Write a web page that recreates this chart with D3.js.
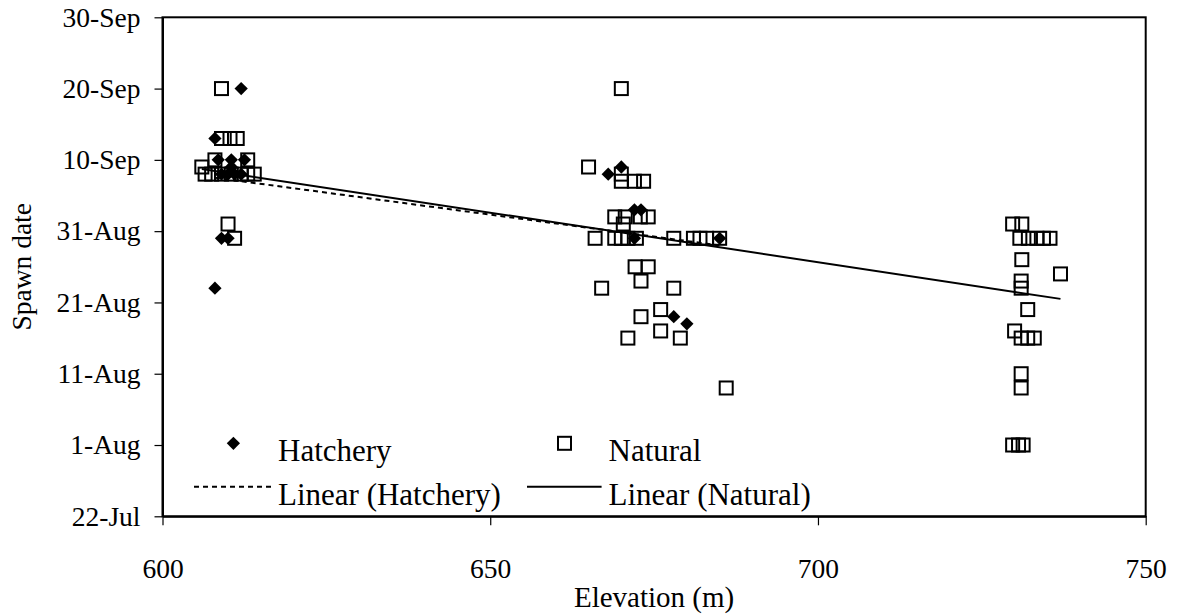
<!DOCTYPE html>
<html>
<head>
<meta charset="utf-8">
<script src="https://cdn.jsdelivr.net/npm/d3@7"></script>
<style>
  html, body { margin: 0; padding: 0; background: #fff; }
  svg { display: block; font-family: "Liberation Serif", "Times New Roman", serif; }
</style>
</head>
<body>
<svg id="chart" width="1178" height="615"></svg>
<script>
// Spawn dates by site elevation, hatchery vs natural-origin fish
const hatcheryElevation = [612, 608, 608.5, 610.5, 612.5, 609, 610, 611, 612, 610.5, 609, 610, 608,
                           668, 670, 672, 673, 672, 685, 678, 680];
const hatcheryDate = ["20-Sep", "13-Sep", "10-Sep", "10-Sep", "10-Sep", "8-Sep", "8-Sep", "8-Sep", "8-Sep", "9-Sep", "30-Aug", "30-Aug", "23-Aug",
                      "8-Sep", "9-Sep", "3-Sep", "3-Sep", "30-Aug", "30-Aug", "19-Aug", "18-Aug"];

const naturalElevation = [609, 609, 610.3, 611.4, 608, 613, 606, 606.5, 607.5, 609, 610.5, 612, 613, 614, 610, 611,
                          670, 665, 670, 670, 672, 673.4, 669, 670.6, 672.9, 674.1, 670.3,
                          666, 669, 670, 671, 672.3, 678, 681, 682, 683, 685,
                          672.1, 674.1, 673, 667, 678, 676, 673, 676, 671, 679, 686,
                          729.7, 731.1, 730.8, 732.1, 733.4, 734.4, 735.4, 731.1, 737, 731, 731, 732, 730,
                          731, 732, 733, 731, 731, 729.7, 730.6, 731.3];
const naturalDate = ["20-Sep", "13-Sep", "13-Sep", "13-Sep", "10-Sep", "10-Sep", "9-Sep", "8-Sep", "8-Sep", "8-Sep", "8-Sep", "8-Sep", "8-Sep", "8-Sep", "1-Sep", "30-Aug",
                     "20-Sep", "9-Sep", "8-Sep", "7-Sep", "7-Sep", "7-Sep", "2-Sep", "2-Sep", "2-Sep", "2-Sep", "1-Sep",
                     "30-Aug", "30-Aug", "30-Aug", "30-Aug", "30-Aug", "30-Aug", "30-Aug", "30-Aug", "30-Aug", "30-Aug",
                     "26-Aug", "26-Aug", "24-Aug", "23-Aug", "23-Aug", "20-Aug", "19-Aug", "17-Aug", "16-Aug", "16-Aug", "9-Aug",
                     "1-Sep", "1-Sep", "30-Aug", "30-Aug", "30-Aug", "30-Aug", "30-Aug", "27-Aug", "25-Aug", "24-Aug", "23-Aug", "20-Aug", "17-Aug",
                     "16-Aug", "16-Aug", "16-Aug", "11-Aug", "9-Aug", "1-Aug", "1-Aug", "1-Aug"];

// Linear trend lines: [elevation, date] at each end of the fitted range
const hatcheryTrend = [[608, "7-Sep 12:00"], [685, "29-Aug 00:00"]];
const naturalTrend = [[606, "8-Sep 17:00"], [737, "21-Aug 12:00"]];

const dateTicks = ["22-Jul", "1-Aug", "11-Aug", "21-Aug", "31-Aug", "10-Sep", "20-Sep", "30-Sep"];
const elevationTicks = [600, 650, 700, 750];

const parseDay = d3.timeParse("%d-%b");
const parseDayTime = d3.timeParse("%d-%b %H:%M");
const fmtDay = d3.timeFormat("%-d-%b");

const svg = d3.select("#chart");
const plotLeft = 162.5, plotRight = 1145.7, plotTop = 17.3, plotBottom = 516.3;

const x = d3.scaleLinear().domain([600, 750]).range([plotLeft, plotRight]);
const y = d3.scaleTime().domain([parseDay("22-Jul"), parseDay("30-Sep")]).range([plotBottom, plotTop]);

const fontTick = 27.5, fontTitle = 28, fontLegend = 31;

// Plot frame
svg.append("rect")
  .attr("x", plotLeft).attr("y", plotTop)
  .attr("width", plotRight - plotLeft).attr("height", plotBottom - plotTop)
  .attr("fill", "none").attr("stroke", "#000").attr("stroke-width", 2);

// Y axis
const yAxis = svg.append("g")
  .attr("transform", `translate(${plotLeft},0)`)
  .call(d3.axisLeft(y).tickValues(dateTicks.map(parseDay)).tickFormat(fmtDay)
        .tickSize(8).tickSizeOuter(0).tickPadding(14));
yAxis.select(".domain").attr("stroke-width", 2);
yAxis.selectAll(".tick line").attr("stroke-width", 1.2);
yAxis.selectAll("text").attr("font-size", fontTick).attr("fill", "#000");
yAxis.attr("font-family", null);

// X axis
const xAxis = svg.append("g")
  .attr("transform", `translate(0,${plotBottom})`)
  .call(d3.axisBottom(x).tickValues(elevationTicks).tickFormat(d3.format("d"))
        .tickSize(9).tickSizeOuter(0).tickPadding(33));
xAxis.select(".domain").attr("stroke-width", 2);
xAxis.selectAll(".tick line").attr("stroke-width", 1.2);
xAxis.selectAll("text").attr("font-size", fontTick).attr("fill", "#000");
xAxis.attr("font-family", null);

// Axis titles
svg.append("text")
  .attr("x", (plotLeft + plotRight) / 2).attr("y", 607)
  .attr("text-anchor", "middle").attr("font-size", fontTitle + 1)
  .text("Elevation (m)");
svg.append("text")
  .attr("transform", `translate(31,${(plotTop + plotBottom) / 2}) rotate(-90)`)
  .attr("text-anchor", "middle").attr("font-size", fontTitle - 0.5)
  .text("Spawn date");

// Markers
const diamond = d3.symbol().type(d3.symbolDiamond2).size(112);
const hatchery = hatcheryElevation.map((e, i) => ({ e, d: parseDay(hatcheryDate[i]) }));
const natural = naturalElevation.map((e, i) => ({ e, d: parseDay(naturalDate[i]) }));

svg.append("g").selectAll("path").data(hatchery).join("path")
  .attr("d", diamond)
  .attr("transform", p => `translate(${x(p.e)},${y(p.d)})`)
  .attr("fill", "#000");

const sq = 13;
svg.append("g").selectAll("rect").data(natural).join("rect")
  .attr("x", p => x(p.e) - sq / 2).attr("y", p => y(p.d) - sq / 2)
  .attr("width", sq).attr("height", sq)
  .attr("fill", "none").attr("stroke", "#000").attr("stroke-width", 2);

// Trend lines
const line = d3.line().x(p => x(p[0])).y(p => y(parseDayTime(p[1])));
svg.append("path").attr("d", line(hatcheryTrend))
  .attr("fill", "none").attr("stroke", "#000").attr("stroke-width", 2).attr("stroke-dasharray", "5,4");
svg.append("path").attr("d", line(naturalTrend))
  .attr("fill", "none").attr("stroke", "#000").attr("stroke-width", 2);

// Legend
const lg = svg.append("g").attr("font-size", fontLegend);
lg.append("path").attr("d", diamond).attr("transform", "translate(233.4,443.3)").attr("fill", "#000");
lg.append("text").attr("x", 278).attr("y", 461).text("Hatchery");
lg.append("rect").attr("x", 564.5 - sq / 2).attr("y", 443.3 - sq / 2).attr("width", sq).attr("height", sq)
  .attr("fill", "none").attr("stroke", "#000").attr("stroke-width", 2);
lg.append("text").attr("x", 608.5).attr("y", 461).text("Natural");
lg.append("line").attr("x1", 194).attr("x2", 272).attr("y1", 486.7).attr("y2", 486.7)
  .attr("stroke", "#000").attr("stroke-width", 2).attr("stroke-dasharray", "5,4");
lg.append("text").attr("x", 278).attr("y", 505).text("Linear (Hatchery)");
lg.append("line").attr("x1", 527).attr("x2", 601.6).attr("y1", 486.7).attr("y2", 486.7)
  .attr("stroke", "#000").attr("stroke-width", 2);
lg.append("text").attr("x", 608.5).attr("y", 505).text("Linear (Natural)");
</script>
</body>
</html>
